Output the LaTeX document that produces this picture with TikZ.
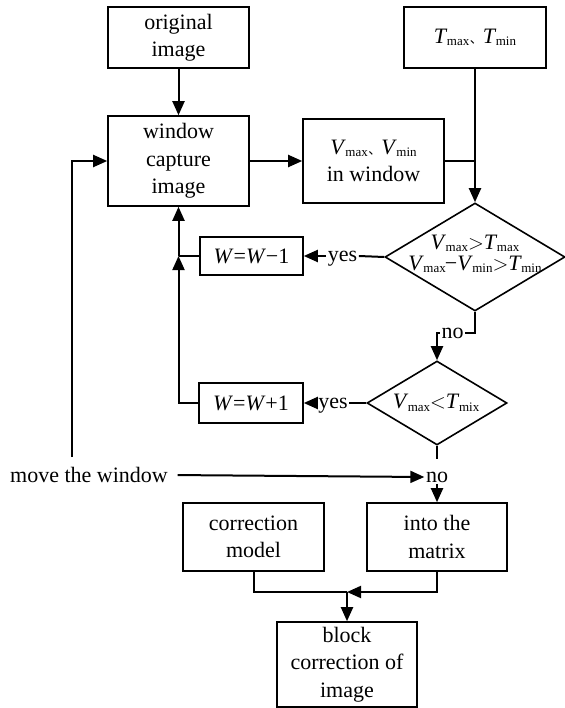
\documentclass[tikz,border=0pt]{standalone}
\usepackage{fontspec}
\setmainfont{Liberation Serif}
\newfontfamily\cjk{Noto Sans CJK SC}
\usetikzlibrary{arrows.meta,calc,shapes.geometric}
\newcommand\sbs[2]{\textit{#1}\kern-0.5pt\raisebox{-2.5pt}{\fontsize{13}{13}\selectfont #2}}
\newcommand\dun{\kern0.5pt{\cjk\fontsize{13}{13}\selectfont 、}}
\begin{document}
\begin{tikzpicture}[x=1pt,y=-1pt,
  txt/.style={font=\fontsize{22}{27.5}\selectfont},
  box/.style={txt,draw,line width=1.6pt,align=center,inner sep=0pt},
  dia/.style={diamond,draw,line width=1.6pt,inner sep=0pt},
  lbl/.style={txt,inner sep=1.5pt,text depth=0pt},
  con/.style={draw,line width=2pt},
  arr/.style={con,-{Triangle[length=14pt,width=12pt]}}]
\useasboundingbox (0,0) rectangle (564,708);
% boxes
\node[box,minimum width=141,minimum height=61] (orig) at (178.5,37.5) {original\\image};
\node[box,minimum width=141,minimum height=90] (win) at (178.5,161) {window\\capture\\image};
\node[box,minimum width=141,minimum height=84] (vwin) at (373.5,161) {\sbs{V}{max}\dun\sbs{V}{min}\\in window};
\node[box,minimum width=142,minimum height=61] (tm) at (475,37.5) {\sbs{T}{max}\dun\sbs{T}{min}};
\node[dia,minimum width=180,minimum height=108] (d1) at (475,257) {};
\node[txt,align=center,inner sep=0pt,font=\fontsize{22}{21}\selectfont] (d1t) at (475,254)
  {\sbs{V}{max}${>}$\sbs{T}{max}\\\sbs{V}{max}\kern-1pt−\sbs{V}{min}${>}$\sbs{T}{min}};
\node[box,minimum width=103,minimum height=38] (wm1) at (251.5,256) {\textit{W}=\textit{W}−1};
\node[dia,minimum width=140,minimum height=84] (d2) at (437,403) {};
\node[txt,inner sep=0pt] (d2t) at (436,403) {\sbs{V}{max}${<}$\sbs{T}{mix}};
\node[box,minimum width=104,minimum height=40] (wp1) at (251,403) {\textit{W}=\textit{W}+1};
\node[box,minimum width=141,minimum height=68] (cm) at (253.5,537) {correction\\model};
\node[box,minimum width=140,minimum height=68] (itm) at (437,537) {into the\\matrix};
\node[box,minimum width=140,minimum height=85] (blk) at (347,664.5) {block\\correction of\\image};
% labels
\node[lbl] (yes1) at (342.5,256) {yes};
\node[lbl] (yes2) at (333,403) {yes};
\node[lbl] (no1) at (452.5,333) {no};
\node[lbl] (no2) at (437,477) {no};
\node[lbl] (mv) at (89,475) {move the window};
\coordinate (mvtop) at (72,457);
\coordinate (jn) at (347,592);
\coordinate (jl) at (178.5,256);
% connectors
\path[arr] (orig) -- (win);
\path[arr] (win) -- (vwin);
\path[con] (vwin.east) -- (vwin.east -| d1.north);
\path[arr] (tm) -- (d1.north);
\path[con] (d1.west) -- (yes1.east);
\path[arr] (yes1.west) -- (wm1.east);
\path[con] (wm1.west) -- (jl);
\path[arr] (jl) -- (win.south);
\path[arr] (wp1.west) -| (jl);
\path[con] (d1.south) |- (no1.east);
\path[arr] (no1.west) -| (d2.north);
\path[con] (d2.west) -- (yes2.east);
\path[arr] (yes2.west) -- (wp1.east);
\path[con] (d2.south) -- ($(d2.south)+(0,13)$);
\path[arr,shorten <=8pt] (mv.east) -- (no2.west);
\path[arr] (mvtop) |- (win.west);
\path[arr] (no2.south) -- (itm.north);
\path[con] (cm.south) |- (jn);
\path[arr] (itm.south) |- (jn);
\path[arr] (jn) -- (blk.north);
\end{tikzpicture}
\end{document}
